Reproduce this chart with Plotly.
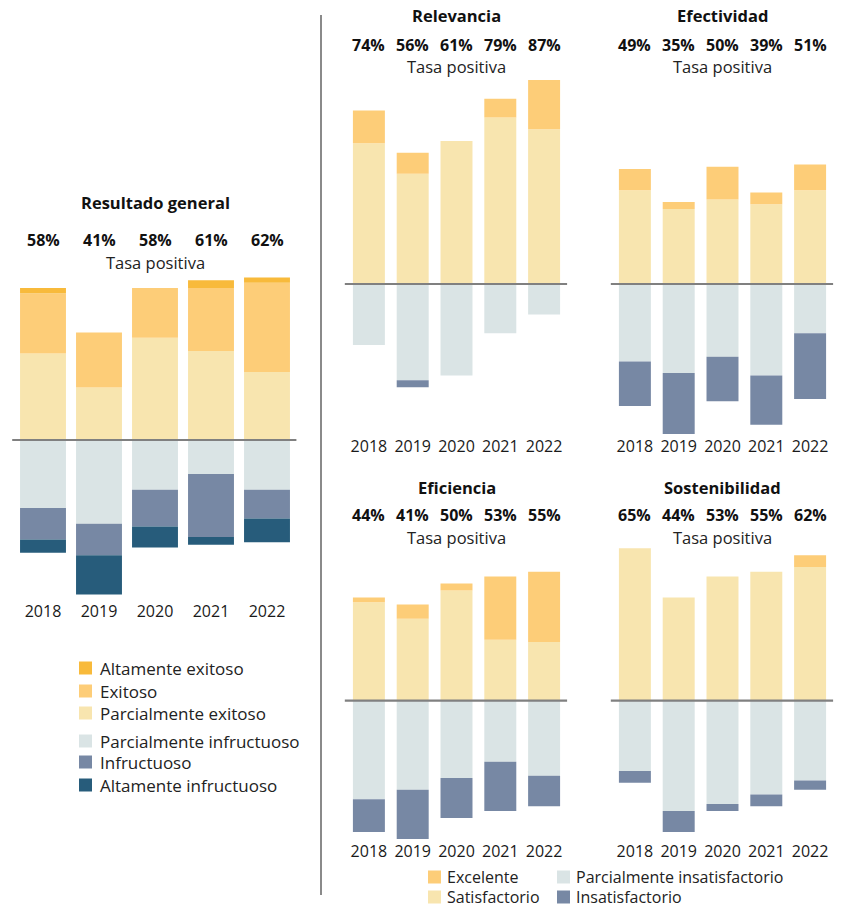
import plotly.graph_objects as go

W, H = 844, 909
FONT = "Open Sans"

years = ["2018", "2019", "2020", "2021", "2022"]

# ---- Resultado general (% of evaluations) ----
gen_alt_exitoso = [2, 0, 0, 3, 2]
gen_exitoso = [23, 21, 19, 24, 34]
gen_parc_exitoso = [33, 20, 39, 34, 26]
gen_parc_infructuoso = [26, 32, 19, 13, 19]
gen_infructuoso = [12, 12, 14, 24, 11]
gen_alt_infructuoso = [5, 15, 8, 3, 9]
gen_tasa = [58, 41, 58, 61, 62]

# ---- Relevancia ----
rel_excelente = [14, 9, 0, 8, 21]
rel_satisf = [60, 47, 61, 71, 66]
rel_parc_insat = [26, 41, 39, 21, 13]
rel_insat = [0, 3, 0, 0, 0]
rel_tasa = [74, 56, 61, 79, 87]

# ---- Efectividad ----
efe_excelente = [9, 3, 14, 5, 11]
efe_satisf = [40, 32, 36, 34, 40]
efe_parc_insat = [33, 38, 31, 39, 21]
efe_insat = [19, 26, 19, 21, 28]
efe_tasa = [49, 35, 50, 39, 51]

# ---- Eficiencia ----
efi_excelente = [2, 6, 3, 27, 30]
efi_satisf = [42, 35, 47, 26, 25]
efi_parc_insat = [42, 38, 33, 26, 32]
efi_insat = [14, 21, 17, 21, 13]
efi_tasa = [44, 41, 50, 53, 55]

# ---- Sostenibilidad ----
sos_excelente = [0, 0, 0, 0, 5]
sos_satisf = [65, 44, 53, 55, 57]
sos_parc_insat = [30, 47, 44, 40, 34]
sos_insat = [5, 9, 3, 5, 4]
sos_tasa = [65, 44, 53, 55, 62]

gen_names = ["Altamente exitoso", "Exitoso", "Parcialmente exitoso",
             "Parcialmente infructuoso", "Infructuoso", "Altamente infructuoso"]
gen_colors = ["#F8BA3B", "#FDCD78", "#F8E5AF", "#DAE4E5", "#7788A4", "#275C7B"]
cri_names = ["Excelente", "Satisfactorio", "Parcialmente insatisfactorio", "Insatisfactorio"]
cri_colors = ["#FDCD78", "#F8E5AF", "#DAE4E5", "#7788A4"]

fig = go.Figure()
layout = dict(width=W, height=H, margin=dict(l=0, r=0, t=0, b=0),
              paper_bgcolor="white", plot_bgcolor="white",
              barmode="relative", showlegend=False,
              font=dict(family=FONT, color="#1a1a1a"))
shapes, annotations = [], []


def px(x, y):
    return x / W, 1 - y / H


def add_panel(i, title, pos_series, pos_colors, neg_series, neg_colors, tasa,
              xdom, ydom, base, ppu, bar_w, title_y, pct_y, tasa_y):
    xa = "x" if i == 1 else f"x{i}"
    ya = "y" if i == 1 else f"y{i}"
    # positives stack upward (first trace closest to zero)
    for vals, col in zip(pos_series, pos_colors):
        fig.add_trace(go.Bar(x=years, y=vals, width=bar_w, marker=dict(color=col, line=dict(width=0)),
                             xaxis=xa, yaxis=ya, hoverinfo="skip"))
    for vals, col in zip(neg_series, neg_colors):
        fig.add_trace(go.Bar(x=years, y=[-v for v in vals], width=bar_w,
                             marker=dict(color=col, line=dict(width=0)),
                             xaxis=xa, yaxis=ya, hoverinfo="skip"))
    top = (base - ydom[0]) / ppu
    bot = -(ydom[1] - base) / ppu
    kx = "xaxis" if i == 1 else f"xaxis{i}"
    ky = "yaxis" if i == 1 else f"yaxis{i}"
    layout[kx] = dict(domain=[xdom[0] / W, xdom[1] / W], anchor=ya, type="category",
                      categoryorder="array", categoryarray=years,
                      range=[-0.5, len(years) - 0.5],
                      showgrid=False, zeroline=False, showline=False, ticks="", fixedrange=True,
                      tickfont=dict(size=16, color="#1a1a1a", family=FONT))
    layout[ky] = dict(domain=[1 - ydom[1] / H, 1 - ydom[0] / H], anchor=xa, range=[bot, top],
                      showgrid=False, zeroline=False, showticklabels=False, fixedrange=True)
    shapes.append(dict(type="line", xref=f"{xa} domain", yref=ya, x0=-0.01, x1=1.005, y0=0, y1=0,
                       line=dict(color="#808080", width=2.2), layer="above"))
    annotations.append(dict(xref=f"{xa} domain", yref="paper", x=0.5, y=1 - title_y / H,
                            text=f"<b>{title}</b>", showarrow=False, yanchor="middle",
                            font=dict(size=16.5, color="#111", family=FONT)))
    for j, t in enumerate(tasa):
        annotations.append(dict(xref=xa, yref="paper", x=j, y=1 - pct_y / H,
                                text=f"<b>{t}%</b>", showarrow=False, yanchor="middle",
                                font=dict(size=16, color="#111", family=FONT)))
    annotations.append(dict(xref=f"{xa} domain", yref="paper", x=0.5, y=1 - tasa_y / H,
                            text="Tasa positiva", showarrow=False, yanchor="middle",
                            font=dict(size=16.5, color="#222", family=FONT)))


add_panel(1, "Resultado general",
          [gen_parc_exitoso, gen_exitoso, gen_alt_exitoso], [gen_colors[2], gen_colors[1], gen_colors[0]],
          [gen_parc_infructuoso, gen_infructuoso, gen_alt_infructuoso], gen_colors[3:],
          gen_tasa, (15, 295), (270, 600), 440, 2.62, 0.82, 202, 240, 262)

panels = [
    ("Relevancia", rel_satisf, rel_excelente, rel_parc_insat, rel_insat, rel_tasa, (347, 566), 0),
    ("Efectividad", efe_satisf, efe_excelente, efe_parc_insat, efe_insat, efe_tasa, (613, 832), 0),
    ("Eficiencia", efi_satisf, efi_excelente, efi_parc_insat, efi_insat, efi_tasa, (347, 566), 1),
    ("Sostenibilidad", sos_satisf, sos_excelente, sos_parc_insat, sos_insat, sos_tasa, (613, 832), 1),
]
for k, (title, sat, exc, pi, ins, tasa, xdom, row) in enumerate(panels):
    if row == 0:
        ydom, base, ty, py, tsy = (75, 435), 284, 16, 45, 67
    else:
        ydom, base, ty, py, tsy = (540, 840), 700.7, 487, 515, 537
    add_panel(k + 2, title, [sat, exc], [cri_colors[1], cri_colors[0]],
              [pi, ins], [cri_colors[2], cri_colors[3]], tasa,
              xdom, ydom, base, 2.345, 0.73, ty, py, tsy)

# vertical divider
shapes.append(dict(type="line", xref="paper", yref="paper", x0=321 / W, x1=321 / W,
                   y0=1 - 15 / H, y1=1 - 895 / H, line=dict(color="#8a8a8a", width=2)))


def legend_item(xs, ytxt, name, col, xt, size):
    x0, y0 = px(xs, ytxt - 6.5)
    x1, y1 = px(xs + 13, ytxt + 6.5)
    shapes.append(dict(type="rect", xref="paper", yref="paper", x0=x0, x1=x1, y0=y1, y1=y0,
                       fillcolor=col, line=dict(width=0)))
    tx, ty = px(xt, ytxt)
    annotations.append(dict(xref="paper", yref="paper", x=tx, y=ty, xanchor="left", yanchor="middle",
                            text=name, showarrow=False, borderpad=0,
                            font=dict(size=size, color="#222", family=FONT)))


gen_leg_y = [668, 691, 713, 741, 762, 785]
for name, col, yy in zip(gen_names, gen_colors, gen_leg_y):
    legend_item(79, yy, name, col, 99, 17)

legend_item(428, 877, cri_names[0], cri_colors[0], 446, 16)
legend_item(428, 897, cri_names[1], cri_colors[1], 446, 16)
legend_item(557, 877, cri_names[2], cri_colors[2], 575, 16)
legend_item(557, 897, cri_names[3], cri_colors[3], 575, 16)

layout["shapes"] = shapes
layout["annotations"] = annotations
fig.update_layout(**layout)
fig.write_html("out.html")
